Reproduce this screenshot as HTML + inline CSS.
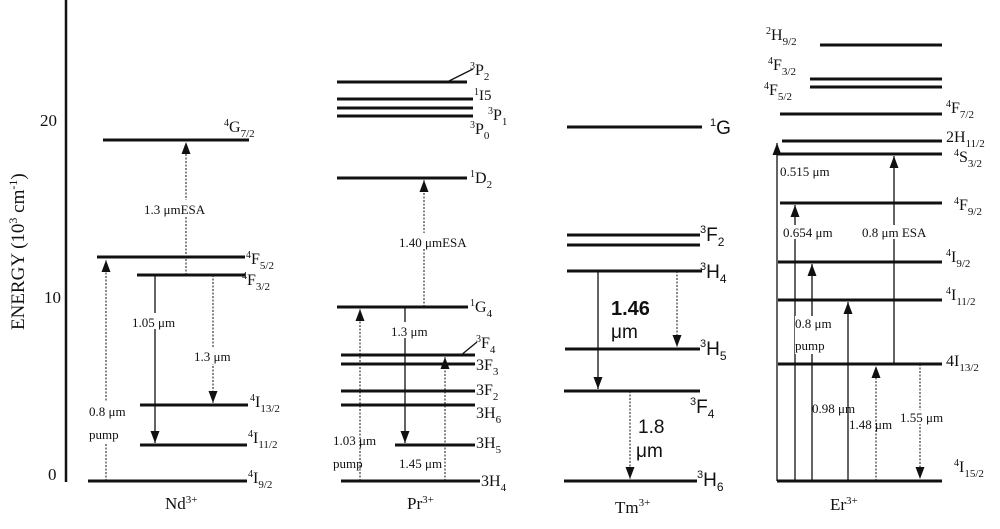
<!DOCTYPE html>
<html><head><meta charset="utf-8"><style>
html,body{margin:0;padding:0;background:#fff}
svg{display:block}
text{font-family:"Liberation Serif",serif;fill:#111}
.s{font-family:"Liberation Sans",sans-serif}
.L{stroke:#111;stroke-width:3}
.a{stroke:#111;stroke-width:1.3}
.d{stroke:#111;stroke-width:1;stroke-dasharray:2,1.5}
</style></head><body>
<svg width="1000" height="529" viewBox="0 0 1000 529" xmlns="http://www.w3.org/2000/svg">
<defs>
<marker id="h" markerWidth="12" markerHeight="9" refX="12" refY="4.5" orient="auto" markerUnits="userSpaceOnUse" viewBox="0 0 12 9"><path d="M0,0 L12,4.5 L0,9 Z" fill="#111"/></marker>
</defs>
<!-- axis -->
<line x1="66" y1="0" x2="66" y2="482" stroke="#111" stroke-width="2.5"/>
<text x="40" y="126" font-size="17">20</text>
<text x="44" y="303" font-size="17">10</text>
<text x="48" y="480" font-size="17">0</text>
<text transform="translate(24,330) rotate(-90)" font-size="19">ENERGY (10<tspan dy="-7" font-size="12">3</tspan><tspan dy="7"> cm</tspan><tspan dy="-7" font-size="12">-1</tspan><tspan dy="7">)</tspan></text>

<!-- Nd -->
<g>
<line class="L" x1="103" y1="140" x2="249" y2="140"/>
<line class="L" x1="97" y1="257" x2="245" y2="257"/>
<line class="L" x1="137" y1="275" x2="245" y2="275"/>
<line class="L" x1="140" y1="405" x2="248" y2="405"/>
<line class="L" x1="140" y1="445" x2="247" y2="445"/>
<line class="L" x1="88" y1="481" x2="247" y2="481"/>
<line class="d" x1="106" y1="481" x2="106" y2="260" marker-end="url(#h)"/>
<line class="d" x1="186" y1="275" x2="186" y2="142" marker-end="url(#h)"/>
<line class="a" x1="155" y1="275" x2="155" y2="443" marker-end="url(#h)"/>
<line class="d" x1="213" y1="275" x2="213" y2="403" marker-end="url(#h)"/>
<rect x="140" y="200" width="80" height="16" fill="#fff"/>
<text x="144" y="214" font-size="13">1.3 μmESA</text>
<rect x="130" y="313" width="54" height="16" fill="#fff"/>
<text x="132" y="327" font-size="13">1.05 μm</text>
<rect x="192" y="348" width="48" height="16" fill="#fff"/>
<text x="194" y="361" font-size="13">1.3 μm</text>
<rect x="88" y="402" width="46" height="42" fill="#fff"/>
<text x="89" y="416" font-size="13">0.8 μm</text>
<text x="89" y="439" font-size="13">pump</text>
<text x="224" y="132" font-size="16"><tspan dy="-6" font-size="10">4</tspan><tspan dy="6">G</tspan><tspan dy="5" font-size="11">7/2</tspan></text>
<text x="246" y="264" font-size="16"><tspan dy="-6" font-size="10">4</tspan><tspan dy="6">F</tspan><tspan dy="5" font-size="11">5/2</tspan></text>
<text x="242" y="285" font-size="16"><tspan dy="-6" font-size="10">4</tspan><tspan dy="6">F</tspan><tspan dy="5" font-size="11">3/2</tspan></text>
<text x="250" y="407" font-size="16"><tspan dy="-6" font-size="10">4</tspan><tspan dy="6">I</tspan><tspan dy="5" font-size="11">13/2</tspan></text>
<text x="248" y="443" font-size="16"><tspan dy="-6" font-size="10">4</tspan><tspan dy="6">I</tspan><tspan dy="5" font-size="11">11/2</tspan></text>
<text x="248" y="483" font-size="16"><tspan dy="-6" font-size="10">4</tspan><tspan dy="6">I</tspan><tspan dy="5" font-size="11">9/2</tspan></text>
<text x="165" y="509" font-size="17">Nd<tspan dy="-6" font-size="11">3+</tspan></text>
</g>

<!-- Pr -->
<g>
<line class="L" x1="337" y1="82" x2="467" y2="82"/>
<line class="L" x1="337" y1="99" x2="473" y2="99"/>
<line class="L" x1="337" y1="108" x2="473" y2="108"/>
<line class="L" x1="337" y1="116" x2="473" y2="116"/>
<line class="L" x1="337" y1="178" x2="467" y2="178"/>
<line class="L" x1="337" y1="307" x2="468" y2="307"/>
<line class="L" x1="341" y1="355" x2="475" y2="355"/>
<line class="L" x1="341" y1="364" x2="475" y2="364"/>
<line class="L" x1="341" y1="391" x2="475" y2="391"/>
<line class="L" x1="341" y1="405" x2="475" y2="405"/>
<line class="L" x1="395" y1="445" x2="475" y2="445"/>
<line class="L" x1="341" y1="481" x2="480" y2="481"/>
<line class="a" x1="447" y1="82" x2="473" y2="69"/>
<line class="a" x1="460" y1="356" x2="477" y2="342"/>
<line class="d" x1="424" y1="307" x2="424" y2="180" marker-end="url(#h)"/>
<line class="d" x1="360" y1="481" x2="360" y2="309" marker-end="url(#h)"/>
<line class="a" x1="405" y1="307" x2="405" y2="443" marker-end="url(#h)"/>
<line class="d" x1="445" y1="481" x2="445" y2="357" marker-end="url(#h)"/>
<rect x="395" y="233" width="70" height="16" fill="#fff"/>
<text x="399" y="247" font-size="13">1.40 μmESA</text>
<rect x="390" y="322" width="46" height="16" fill="#fff"/>
<text x="391" y="336" font-size="13">1.3 μm</text>
<text x="333" y="445" font-size="13">1.03 μm</text>
<text x="333" y="468" font-size="13">pump</text>
<text x="399" y="468" font-size="13">1.45 μm</text>
<text x="470" y="75" font-size="16"><tspan dy="-6" font-size="10">3</tspan><tspan dy="6">P</tspan><tspan dy="5" font-size="11">2</tspan></text>
<text x="474" y="100" font-size="15"><tspan dy="-5" font-size="10">1</tspan><tspan dy="5">I5</tspan></text>
<text x="488" y="120" font-size="16"><tspan dy="-6" font-size="10">3</tspan><tspan dy="6">P</tspan><tspan dy="5" font-size="11">1</tspan></text>
<text x="470" y="134" font-size="16"><tspan dy="-6" font-size="10">3</tspan><tspan dy="6">P</tspan><tspan dy="5" font-size="11">0</tspan></text>
<text x="470" y="183" font-size="16"><tspan dy="-6" font-size="10">1</tspan><tspan dy="6">D</tspan><tspan dy="5" font-size="11">2</tspan></text>
<text x="470" y="312" font-size="16"><tspan dy="-6" font-size="10">1</tspan><tspan dy="6">G</tspan><tspan dy="5" font-size="11">4</tspan></text>
<text x="476" y="348" font-size="16"><tspan dy="-6" font-size="10">3</tspan><tspan dy="6">F</tspan><tspan dy="5" font-size="11">4</tspan></text>
<text x="476" y="370" font-size="16">3F<tspan dy="5" font-size="11">3</tspan></text>
<text x="476" y="395" font-size="16">3F<tspan dy="5" font-size="11">2</tspan></text>
<text x="476" y="418" font-size="16">3H<tspan dy="5" font-size="11">6</tspan></text>
<text x="476" y="448" font-size="16">3H<tspan dy="5" font-size="11">5</tspan></text>
<text x="481" y="486" font-size="16">3H<tspan dy="5" font-size="11">4</tspan></text>
<text x="407" y="509" font-size="17">Pr<tspan dy="-6" font-size="11">3+</tspan></text>
</g>

<!-- Tm -->
<g>
<line class="L" x1="567" y1="127" x2="702" y2="127"/>
<line class="L" x1="567" y1="235" x2="700" y2="235"/>
<line class="L" x1="567" y1="245" x2="700" y2="245"/>
<line class="L" x1="567" y1="271" x2="702" y2="271"/>
<line class="L" x1="565" y1="349" x2="700" y2="349"/>
<line class="L" x1="564" y1="391" x2="700" y2="391"/>
<line class="L" x1="564" y1="481" x2="697" y2="481"/>
<line class="a" x1="598" y1="271" x2="598" y2="389" marker-end="url(#h)"/>
<line class="d" x1="677" y1="271" x2="677" y2="347" marker-end="url(#h)"/>
<line class="d" x1="630" y1="391" x2="630" y2="479" marker-end="url(#h)"/>
<text class="s" x="611" y="315" font-size="20" font-weight="bold">1.46</text>
<text class="s" x="611" y="338" font-size="19">μm</text>
<text class="s" x="638" y="433" font-size="19">1.8</text>
<text class="s" x="636" y="457" font-size="19">μm</text>
<text class="s" x="710" y="134" font-size="19"><tspan dy="-8" font-size="11">1</tspan><tspan dy="8">G</tspan></text>
<text class="s" x="700" y="241" font-size="19"><tspan dy="-8" font-size="11">3</tspan><tspan dy="8">F</tspan><tspan dy="5" font-size="12">2</tspan></text>
<text class="s" x="700" y="278" font-size="19"><tspan dy="-8" font-size="11">3</tspan><tspan dy="8">H</tspan><tspan dy="5" font-size="12">4</tspan></text>
<text class="s" x="700" y="355" font-size="19"><tspan dy="-8" font-size="11">3</tspan><tspan dy="8">H</tspan><tspan dy="5" font-size="12">5</tspan></text>
<text class="s" x="690" y="413" font-size="19"><tspan dy="-8" font-size="11">3</tspan><tspan dy="8">F</tspan><tspan dy="5" font-size="12">4</tspan></text>
<text class="s" x="697" y="486" font-size="19"><tspan dy="-8" font-size="11">3</tspan><tspan dy="8">H</tspan><tspan dy="5" font-size="12">6</tspan></text>
<text x="615" y="513" font-size="17">Tm<tspan dy="-7" font-size="11">3+</tspan></text>
</g>

<!-- Er -->
<g>
<line class="L" x1="820" y1="45" x2="942" y2="45"/>
<line class="L" x1="810" y1="79" x2="942" y2="79"/>
<line class="L" x1="810" y1="87" x2="942" y2="87"/>
<line class="L" x1="780" y1="114" x2="942" y2="114"/>
<line class="L" x1="782" y1="141" x2="942" y2="141"/>
<line class="L" x1="777" y1="154" x2="942" y2="154"/>
<line class="L" x1="780" y1="203" x2="942" y2="203"/>
<line class="L" x1="778" y1="262" x2="942" y2="262"/>
<line class="L" x1="778" y1="300" x2="942" y2="300"/>
<line class="L" x1="778" y1="364" x2="942" y2="364"/>
<line class="L" x1="777" y1="481" x2="942" y2="481"/>
<line class="a" x1="777" y1="481" x2="777" y2="143" marker-end="url(#h)"/>
<line class="a" x1="795" y1="481" x2="795" y2="205" marker-end="url(#h)"/>
<line class="a" x1="812" y1="481" x2="812" y2="264" marker-end="url(#h)"/>
<line class="a" x1="848" y1="481" x2="848" y2="302" marker-end="url(#h)"/>
<line class="d" x1="876" y1="481" x2="876" y2="366" marker-end="url(#h)"/>
<line class="a" x1="894" y1="364" x2="894" y2="156" marker-end="url(#h)"/>
<line class="d" x1="920" y1="364" x2="920" y2="479" marker-end="url(#h)"/>
<rect x="779" y="164" width="52" height="14" fill="#fff"/>
<text x="780" y="176" font-size="13">0.515 μm</text>
<rect x="782" y="225" width="58" height="14" fill="#fff"/>
<text x="783" y="237" font-size="13">0.654 μm</text>
<rect x="860" y="225" width="74" height="14" fill="#fff"/>
<text x="862" y="237" font-size="13">0.8 μm ESA</text>
<rect x="795" y="316" width="32" height="38" fill="#fff"/>
<text x="795" y="328" font-size="13">0.8 μm</text>
<text x="795" y="350" font-size="13">pump</text>
<rect x="813" y="402" width="34" height="14" fill="#fff"/>
<text x="812" y="413" font-size="13">0.98 μm</text>
<text x="849" y="429" font-size="13">1.48 μm</text>
<rect x="898" y="410" width="44" height="14" fill="#fff"/>
<text x="900" y="422" font-size="13">1.55 μm</text>
<text x="766" y="40" font-size="16"><tspan dy="-6" font-size="10">2</tspan><tspan dy="6">H</tspan><tspan dy="5" font-size="11">9/2</tspan></text>
<text x="768" y="70" font-size="16"><tspan dy="-6" font-size="10">4</tspan><tspan dy="6">F</tspan><tspan dy="5" font-size="11">3/2</tspan></text>
<text x="764" y="95" font-size="16"><tspan dy="-6" font-size="10">4</tspan><tspan dy="6">F</tspan><tspan dy="5" font-size="11">5/2</tspan></text>
<text x="946" y="113" font-size="16"><tspan dy="-6" font-size="10">4</tspan><tspan dy="6">F</tspan><tspan dy="5" font-size="11">7/2</tspan></text>
<text x="946" y="142" font-size="16">2H<tspan dy="5" font-size="11">11/2</tspan></text>
<text x="954" y="162" font-size="16"><tspan dy="-6" font-size="10">4</tspan><tspan dy="6">S</tspan><tspan dy="5" font-size="11">3/2</tspan></text>
<text x="954" y="210" font-size="16"><tspan dy="-6" font-size="10">4</tspan><tspan dy="6">F</tspan><tspan dy="5" font-size="11">9/2</tspan></text>
<text x="946" y="262" font-size="16"><tspan dy="-6" font-size="10">4</tspan><tspan dy="6">I</tspan><tspan dy="5" font-size="11">9/2</tspan></text>
<text x="946" y="300" font-size="16"><tspan dy="-6" font-size="10">4</tspan><tspan dy="6">I</tspan><tspan dy="5" font-size="11">11/2</tspan></text>
<text x="946" y="366" font-size="16">4I<tspan dy="5" font-size="11">13/2</tspan></text>
<text x="954" y="472" font-size="16"><tspan dy="-6" font-size="10">4</tspan><tspan dy="6">I</tspan><tspan dy="5" font-size="11">15/2</tspan></text>
<text x="830" y="510" font-size="17">Er<tspan dy="-6" font-size="11">3+</tspan></text>
</g>
</svg>
</body></html>
